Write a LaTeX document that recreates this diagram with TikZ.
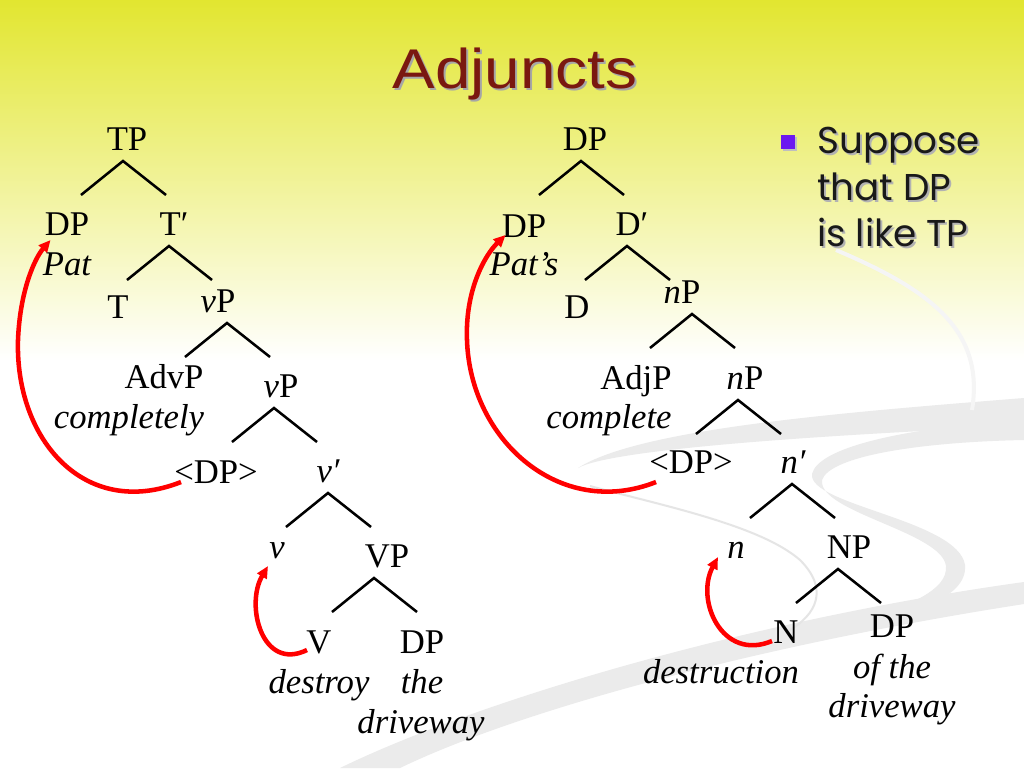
\documentclass[tikz,border=0pt]{standalone}
\usepackage{fontspec}
\setmainfont{Liberation Serif}
\newfontfamily\titlefont[FakeStretch=1.14]{Liberation Sans}
\newfontfamily\pointfont{Poppins}
\usetikzlibrary{arrows.meta}
\definecolor{slidetop}{RGB}{226,230,48}
\definecolor{slidemid}{RGB}{242,243,178}
\definecolor{titlered}{RGB}{122,24,16}
\definecolor{bulletviolet}{RGB}{108,24,240}
\newcommand\fork[2]{\draw[branch] ([shift={(#2,11)}]#1.base) +(-42,34) -- +(0,0) -- +(43,34);}
\begin{document}
\begin{tikzpicture}[x=0.75pt,y=-0.75pt,
    every node/.append style={inner sep=0pt},
    cat/.style={anchor=base,font=\fontsize{26}{30}\selectfont},
    word/.style={anchor=base,font=\fontsize{26}{30}\selectfont\itshape},
    branch/.style={line width=1.9pt},
    move/.style={red,line width=3.4pt,-{Triangle[length=9pt,width=8pt]}},
    swoosh/.style={fill=black!8},
    swline/.style={draw=black!10,line width=1.5pt},
    headline/.style={anchor=base,font=\titlefont\fontsize{42}{48}\selectfont},
    point/.style={anchor=north west,align=left,font=\pointfont\fontsize{28}{35}\selectfont},
    sq/.style={minimum size=10.5pt}]
    \useasboundingbox (0,0) rectangle (1024,768);
    \fill[white] (0,0) rectangle (1024,768);
    \shade[top color=slidetop,middle color=slidemid,bottom color=white] (0,0) rectangle (1024,360);

    \fill[swoosh] (1024,398) .. controls (850,412) and (640,428) .. (578,468) .. controls (610,450) and (800,436) .. (1024,426) -- cycle;
    \fill[swoosh] (1024,420) .. controls (900,428) and (818,448) .. (812,474) .. controls (808,505) and (958,520) .. (965,565) .. controls (968,600) and (905,615) .. (860,622) .. controls (910,605) and (948,590) .. (946,566) .. controls (942,532) and (818,512) .. (822,480) .. controls (830,456) and (920,442) .. (1024,440) -- cycle;
    \fill[swoosh] (340,768) .. controls (480,700) and (750,620) .. (1024,582) -- (1024,604) .. controls (760,645) and (520,710) .. (400,768) -- cycle;
    \draw[swline] (590,486) .. controls (660,505) and (760,525) .. (800,560) .. controls (830,590) and (815,615) .. (790,630);
    \draw[draw=black!4,line width=3pt] (836,250) .. controls (930,290) and (985,330) .. (972,410);

    \node[headline,text=black!35] (titleshade) at (517,90) {Adjuncts};
    \node[headline,text=titlered] (title) at (515,88) {Adjuncts};

    \node[sq,fill=black!25] (markshade) at (790,144) {};
    \node[sq,fill=bulletviolet] (mark) at (788,142) {};
    \node[point,text=black!30] (pointshade) at (819,129) {Suppose\\that DP\\is like TP};
    \node[point,text=black!90] (point) at (817,127) {Suppose\\that DP\\is like TP};

    \node[cat] (tp) at (127,150) {TP};
    \node[cat] (spec) at (67,235) {DP};
    \node[cat] (tbar) at (174,235) {T′};
    \node[word] (pat) at (67,275) {Pat};
    \node[cat] (t) at (118,318) {T};
    \node[cat] (vp) at (218,312) {{\itshape v}P};
    \node[cat] (advp) at (164,388) {AdvP};
    \node[word] (adv) at (129,428) {completely};
    \node[cat] (vpb) at (281,397) {{\itshape v}P};
    \node[cat] (trace) at (216,483) {<DP>};
    \node[word] (vbar) at (328,482) {v′};
    \node[word] (vhead) at (277,558) {v};
    \node[cat] (vpbig) at (387,567) {VP};
    \node[cat] (verb) at (319,653) {V};
    \node[cat] (obj) at (422,653) {DP};
    \node[word] (destroy) at (319,693) {destroy};
    \node[word] (the) at (422,693) {the};
    \node[word] (drive) at (421,733) {driveway};

    \fork{tp}{-4}
    \fork{tbar}{-5}
    \fork{vp}{9}
    \fork{vpb}{-7}
    \fork{vbar}{0}
    \fork{vpbig}{-13}

    \node[cat] (dp) at (585,150) {DP};
    \node[cat] (poss) at (524,237) {DP};
    \node[cat] (dbar) at (632,235) {D′};
    \node[word] (pats) at (524,275) {Pat’s};
    \node[cat] (d) at (577,318) {D};
    \node[cat] (np) at (682,303) {{\itshape n}P};
    \node[cat] (adjp) at (636,389) {AdjP};
    \node[word] (adj) at (609,428) {complete};
    \node[cat] (npb) at (745,389) {{\itshape n}P};
    \node[cat] (dtrace) at (691,473) {<DP>};
    \node[word] (nbar) at (793,473) {n′};
    \node[word] (nhead) at (736,558) {n};
    \node[cat] (nounp) at (849,558) {NP};
    \node[cat] (noun) at (786,643) {N};
    \node[cat] (ofdp) at (892,637) {DP};
    \node[word] (destr) at (721,683) {destruction};
    \node[word] (ofthe) at (892,678) {of the};
    \node[word] (drive2) at (892,717) {driveway};

    \fork{dp}{-4}
    \fork{dbar}{-5}
    \fork{np}{10}
    \fork{npb}{-7}
    \fork{nbar}{-1}
    \fork{nounp}{-11}

    \draw[move] ([shift={(7,-1)}]trace.base west) .. controls (85,520) and (15,440) .. (18,340) .. controls (20,290) and (35,258) .. ([shift={(6,5)}]spec.base west);
    \draw[move] ([shift={(-12,-3)}]verb.base) .. controls (262,672) and (245,605) .. ([shift={(-9,8)}]vhead.base);
    \draw[move] ([shift={(7,9)}]dtrace.base west) .. controls (560,520) and (470,440) .. (467,340) .. controls (465,290) and (485,255) .. ([shift={(4,-2)}]poss.base west);
    \draw[move] ([shift={(-14,-2)}]noun.base) .. controls (722,662) and (695,600) .. ([shift={(-18,-1)}]nhead.base);
\end{tikzpicture}
\end{document}
